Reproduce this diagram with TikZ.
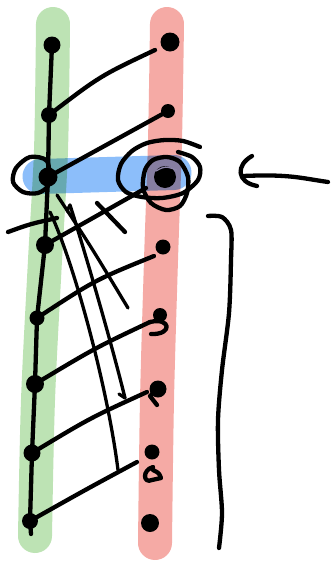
\documentclass[tikz,border=0pt]{standalone}
\definecolor{gbar}{RGB}{189,227,180}
\definecolor{rbar}{RGB}{245,170,165}
\definecolor{bband}{RGB}{140,190,250}
\definecolor{hilite}{RGB}{140,132,168}
\begin{document}
\begin{tikzpicture}[x=1pt,y=-1pt,
  bar/.style={line width=34pt,line cap=round,line join=round},
  ink/.style={line width=4.3pt,line cap=round,line join=round},
  fine/.style={line width=3.3pt,line cap=round,line join=round},
  dot/.style={circle,fill=black,inner sep=0pt,minimum size=#1},
  dot/.default=15pt]
\useasboundingbox (0,0) rectangle (330,563);
% bars
\draw[bar,gbar] plot[smooth] coordinates {(53,24) (51,150) (45,260) (38,400) (35,536)};
\draw[bar,rbar] plot[smooth] coordinates {(167,24) (165,140) (161,260) (157,400) (155,543)};
\begin{scope}[blend mode=multiply]
\draw[line width=35pt,line cap=round,bband] (40,176.5) -- (174,172.5);
\end{scope}
% left dots
\node[dot=17pt] (l1) at (52,45) {};
\node[dot=16pt] (l2) at (49,115) {};
\node[dot=19pt] (l3) at (48,177) {};
\node[dot=18pt] (l4) at (45,245) {};
\node[dot=15pt] (l5) at (37,318) {};
\node[dot=18pt] (l6) at (35,384) {};
\node[dot=17pt] (l7) at (32,453) {};
\node[dot=16pt] (l8) at (30,521) {};
\coordinate (ltail) at (31,534);
% right dots
\node[dot=19pt] (r1) at (170,42) {};
\node[dot=14pt] (r2) at (168,111) {};
\node[dot=22pt] (r3) at (165,177) {};
\node[dot=15pt] (r4) at (163,247) {};
\node[dot=14pt] (r5) at (160,315) {};
\node[dot=17pt] (r6) at (158,389) {};
\node[dot=15pt] (r7) at (152,452) {};
\node[dot=18pt] (r8) at (150,523) {};
% line ends near right dots
\coordinate (e1) at (155,50);
\coordinate (e3) at (146,188);
\coordinate (e4) at (154,256);
\coordinate (e5) at (150,322);
\coordinate (e6) at (147,392);
\coordinate (e7) at (137,462);
% chain
\draw[ink] (l1.center) -- (l2.center) -- (l3.center) -- (l4.center) -- (l5.center)
  -- (l6.center) -- (l7.center) -- (l8.center) -- (ltail);
% cross connectors
\draw[ink] (l2.center) .. controls (100,76) .. (e1);
\draw[ink] (r2.center) -- (l3.center);
\draw[ink] (l4.center) -- (e3);
\draw[ink] (l5.center) .. controls (95,280) .. (e4);
\draw[ink] (l6.center) .. controls (95,348) .. (e5);
\draw[ink] (l7.center) .. controls (90,418) .. (e6);
\draw[ink] (l8.center) .. controls (85,490) .. (e7);
% extra strokes
\coordinate (a1) at (57,195); \coordinate (a2) at (128,308);
\draw[fine] (a1) .. controls (90,245) .. (a2);
\coordinate (b1) at (70,205); \coordinate (b2) at (125,398);
\draw[fine] (b1) .. controls (86,255) and (112,345) .. (b2);
\draw[fine] (b1) -- (67,211);
\draw[fine] (b2) -- (119,394);
\coordinate (c1) at (50,212); \coordinate (c2) at (118,470);
\draw[fine] (c1) .. controls (75,265) and (108,390) .. (c2);
\coordinate (s1) at (8,232); \coordinate (s2) at (57,218);
\draw[ink] (s1) .. controls (30,224) .. (s2);
\coordinate (x1) at (97,203); \coordinate (x2) at (125,232);
\draw[ink] (x1) -- (x2);
% small marks on right column
\draw[ink] (r6.center) -- (150,396) -- (157,405);
\draw[ink] (150,322) .. controls (171,317) and (173,335) .. (151,334);
\draw[ink] (153,467) .. controls (142,470) and (143,484) .. (152,480) -- (161,478) .. controls (159,473) .. (153,470);
% loops around dot l3
\draw[ink] plot[smooth cycle] coordinates {(47,161) (30,157) (16,168) (13,182) (23,192) (38,193) (49,184)};
% loops around dot r3
\draw[ink] plot[smooth] coordinates {(200,147) (183,141) (165,140) (147,143) (132,151) (121,164) (118,180) (126,192) (142,197) (162,198) (183,193) (198,180) (200,167) (192,157) (178,152)};
\draw[ink] plot[smooth cycle] coordinates {(145,170) (153,160) (167,157) (180,162) (188,177) (187,193) (180,206) (166,210) (151,203) (143,188)};
\draw[line width=1.3pt,hilite] (156,171) .. controls (165,166) .. (177,170);
% arrow
\coordinate (p1) at (328,182); \coordinate (p2) at (243,176);
\draw[ink] (p1) .. controls (300,178) and (290,174) .. (p2);
\draw[ink] (252,156) .. controls (236,165) and (236,182) .. (257,186);
% bracket
\draw[ink] plot[smooth] coordinates {(208,216) (222,217) (231,230) (231,260) (229,313) (222,370) (218,420) (219,470) (222,513) (219,548)};
\end{tikzpicture}
\end{document}
